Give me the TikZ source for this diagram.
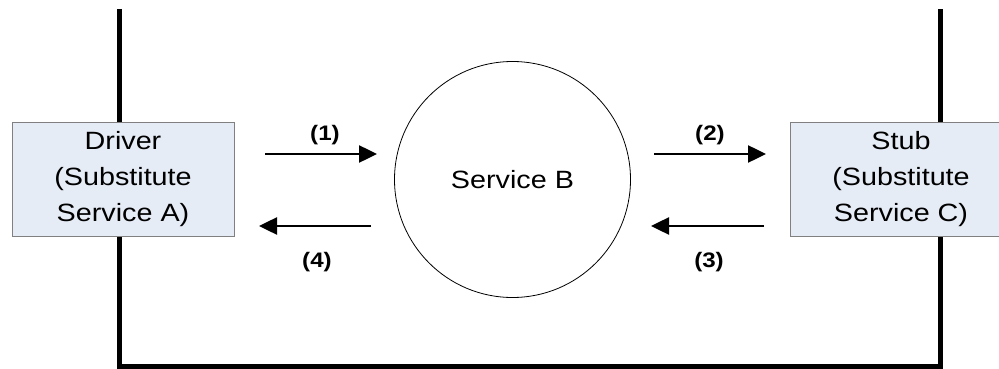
\documentclass[tikz,border=0pt]{standalone}
\usepackage{fontspec}
\setmainfont{Liberation Sans}[FakeStretch=1.15]
\usetikzlibrary{arrows.meta}
\definecolor{boxfill}{HTML}{E6ECF6}
\definecolor{boxline}{HTML}{808080}
\tikzset{
  unitbox/.style={draw=boxline, line width=1pt, fill=boxfill, minimum width=222pt,
    minimum height=114pt, align=center, inner sep=0pt,
    font=\fontsize{25}{36}\selectfont},
  service/.style={circle, draw=black, line width=0.8pt, minimum size=236pt,
    inner sep=0pt, font=\fontsize{25}{30}\selectfont},
  flow/.style={line width=2.5pt, -{Triangle[length=18pt,width=17pt]}},
  steplabel/.style={font=\fontsize{21}{24}\selectfont\bfseries, inner sep=0pt},
  frame/.style={line width=5pt}
}
\begin{document}
\begin{tikzpicture}[x=1pt,y=-1pt]
  \useasboundingbox (0,0) rectangle (999,369);
  \clip (0,0) rectangle (999,369);
  % harness frame joining driver and stub
  \coordinate (ltop) at (119.5,9);
  \coordinate (rtop) at (940.5,9);
  \coordinate (lbot) at (119.5,366.5);
  \coordinate (rbot) at (940.5,366.5);
  \draw[frame] (ltop) -- (lbot) -- (rbot) -- (rtop);
  % components
  \node[unitbox] (driver) at (123,179.5) {Driver\\(Substitute\\Service A)};
  \node[unitbox] (stub) at (901,179.5) {Stub\\(Substitute\\Service C)};
  \node[service] (svc) at (512.5,179.5) {Service B};
  % message flow
  \coordinate (a1s) at (265,154);  \coordinate (a1e) at (377,154);
  \coordinate (a2s) at (654,154);  \coordinate (a2e) at (766,154);
  \coordinate (a3s) at (764,226);  \coordinate (a3e) at (651,226);
  \coordinate (a4s) at (371,226);  \coordinate (a4e) at (259,226);
  \draw[flow] (a1s) -- (a1e);
  \draw[flow] (a2s) -- (a2e);
  \draw[flow] (a3s) -- (a3e);
  \draw[flow] (a4s) -- (a4e);
  \node[steplabel] (l1) at (325,135) {(1)};
  \node[steplabel] (l2) at (710,135) {(2)};
  \node[steplabel] (l3) at (709,262) {(3)};
  \node[steplabel] (l4) at (317,262) {(4)};
\end{tikzpicture}
\end{document}
